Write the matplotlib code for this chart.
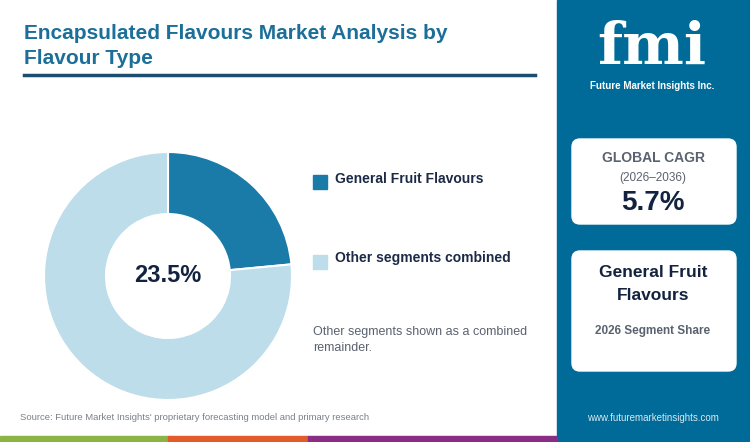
import matplotlib
matplotlib.use("Agg")
import matplotlib.pyplot as plt
from matplotlib.patches import Rectangle, FancyBboxPatch

categories = ["General Fruit Flavours", "Other segments combined"]
shares = [23.5, 76.5]
colors = ["#1b7ba8", "#bcdde9"]

W, H = 750, 442
fig = plt.figure(figsize=(7.5, 4.42), dpi=100)
bg = fig.add_axes([0, 0, 1, 1])
bg.set_xlim(0, W); bg.set_ylim(H, 0); bg.axis("off")

bg.add_patch(Rectangle((557, 0), 193, 442, color="#006b98"))
bg.add_patch(Rectangle((0, 436), 168, 6, color="#8ab446"))
bg.add_patch(Rectangle((168, 436), 140, 6, color="#e35a2b"))
bg.add_patch(Rectangle((308, 436), 249, 6, color="#8a2d85"))

bg.text(24, 46, "Encapsulated Flavours Market Analysis by\nFlavour Type", fontsize=15, fontweight="bold",
        color="#1b6f98", va="center", ha="left", linespacing=1.35, family="Liberation Sans")
bg.plot([24, 535], [75, 75], color="#1b4e6e", lw=2.5)

bg.add_patch(Rectangle((313, 175), 14, 14, color=colors[0]))
bg.text(335, 179, categories[0], fontsize=10, fontweight="bold", color="#1c2a45", va="center", family="Liberation Sans")
bg.add_patch(Rectangle((313, 255), 14, 14, color=colors[1]))
bg.text(335, 258, categories[1], fontsize=10, fontweight="bold", color="#1c2a45", va="center", family="Liberation Sans")
bg.text(313, 340, "Other segments shown as a combined\nremainder.", fontsize=9, color="#5a6270", va="center",
        linespacing=1.4, family="Liberation Sans")

bg.text(20, 418, "Source: Future Market Insights' proprietary forecasting model and primary research", fontsize=6.8,
        color="#7a8088", va="center", family="Liberation Sans")
bg.text(653, 418, "www.futuremarketinsights.com", fontsize=7, color="#d8e8f0", va="center", ha="center",
        family="Liberation Sans")

bg.text(652, 48, "fmi", fontsize=42, fontweight="bold", color="white", ha="center", va="center", family="DejaVu Serif")
bg.text(652, 86, "Future Market Insights Inc.", fontsize=7, color="white", ha="center", va="center",
        fontweight="bold", family="Liberation Sans")

for y0, h in [(139, 85), (251, 120)]:
    bg.add_patch(FancyBboxPatch((572, y0), 164, h, boxstyle="round,pad=0,rounding_size=8", color="white"))
bg.text(653, 158, "GLOBAL CAGR", fontsize=10, fontweight="bold", color="#5a6270", ha="center", va="center", family="Liberation Sans")
bg.text(653, 178, "(2026–2036)", fontsize=8.5, color="#5a6270", ha="center", va="center", family="Liberation Sans")
bg.text(653, 203, "5.7%", fontsize=20, fontweight="bold", color="#13233f", ha="center", va="center", family="Liberation Sans")
bg.text(653, 284, "General Fruit\nFlavours", fontsize=12.5, fontweight="bold", color="#13233f", ha="center", va="center",
        linespacing=1.6, family="Liberation Sans")
bg.text(653, 331, "2026 Segment Share", fontsize=8.5, fontweight="bold", color="#5a6270", ha="center", va="center", family="Liberation Sans")

cx, cy, r = 168, 276, 124
ax = fig.add_axes([(cx - r) / W, 1 - (cy + r) / H, 2 * r / W, 2 * r / H])
ax.pie(shares, colors=colors, startangle=90, counterclock=False, radius=1,
       wedgeprops=dict(width=0.5, edgecolor="white", linewidth=1.5))
ax.set_xlim(-1, 1); ax.set_ylim(-1, 1)
ax.set_aspect("equal")
ax.text(0, 0, f"{shares[0]}%", fontsize=17, fontweight="bold", color="#13233f", ha="center", va="center",
        family="Liberation Sans")

fig.savefig("out.png", dpi=100)
